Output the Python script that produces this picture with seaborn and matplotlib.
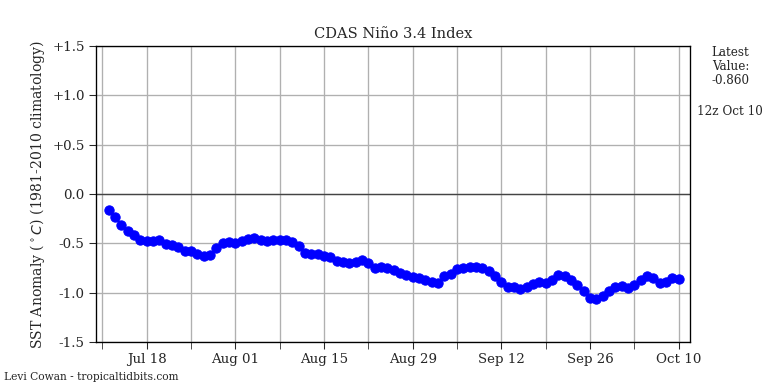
import pandas as pd
import numpy as np
import matplotlib
matplotlib.use("Agg")
import matplotlib.pyplot as plt
import matplotlib.dates as mdates
import matplotlib.ticker as mticker
import seaborn as sns

# Daily CDAS Nino 3.4 values, Jul 12 - Oct 10
start_date = "2022-07-12"
end_date = "2022-10-10"
nino34 = [
    -0.16, -0.23, -0.31, -0.37, -0.41, -0.47, -0.48, -0.48, -0.47, -0.51,
    -0.52, -0.54, -0.58, -0.58, -0.61, -0.63, -0.62, -0.55, -0.50, -0.49,
    -0.50, -0.48, -0.45, -0.44, -0.47, -0.48, -0.47, -0.46, -0.46, -0.49,
    -0.53, -0.60, -0.61, -0.61, -0.63, -0.64, -0.68, -0.69, -0.70, -0.69,
    -0.67, -0.70, -0.75, -0.74, -0.75, -0.77, -0.80, -0.82, -0.84, -0.85,
    -0.87, -0.89, -0.90, -0.83, -0.81, -0.76, -0.75, -0.74, -0.74, -0.75,
    -0.78, -0.83, -0.89, -0.94, -0.94, -0.96, -0.94, -0.91, -0.89, -0.90,
    -0.87, -0.82, -0.83, -0.87, -0.92, -0.98, -1.05, -1.06, -1.03, -0.98,
    -0.94, -0.93, -0.95, -0.92, -0.87, -0.83, -0.85, -0.90, -0.89, -0.85,
    -0.86,
]
ytick_vals = [1.5, 1.0, 0.5, 0.0, -0.5, -1.0, -1.5]
ytick_labels = ["+1.5", "+1.0", "+0.5", "0.0", "-0.5", "-1.0", "-1.5"]

df = pd.DataFrame({"date": pd.date_range(start_date, end_date, freq="D"),
                   "anom": nino34})

sns.set_style("ticks")
plt.rcParams["font.family"] = ["DejaVu Serif"]

fig = plt.figure(figsize=(8, 4), dpi=96)
ax = fig.add_axes([0.125, 0.109, 0.773, 0.771])

ax.axhline(0, color="#444444", linewidth=1.0, zorder=1)
sns.lineplot(data=df, x="date", y="anom", ax=ax, color="blue", marker="o",
             markersize=7, markeredgecolor="blue", linewidth=1.5, zorder=3)

ax.set_xlim(pd.Timestamp("2022-07-10"), pd.Timestamp("2022-10-11 18:00"))
ax.set_ylim(-1.5, 1.5)
ax.set_yticks(ytick_vals)
ax.set_yticklabels(ytick_labels)

# major ticks every two weeks, minor ticks half way between
major_days = pd.date_range("2022-07-18", "2022-10-10", freq="14D")
minor_days = pd.date_range("2022-07-11", "2022-10-10", freq="14D")
ax.xaxis.set_major_locator(mticker.FixedLocator(mdates.date2num(major_days)))
ax.xaxis.set_minor_locator(mticker.FixedLocator(mdates.date2num(minor_days)))
ax.xaxis.set_major_formatter(mdates.DateFormatter("%b %d"))

ax.grid(True, which="major", color="#b0b0b0", linewidth=1.0)
ax.grid(True, which="minor", axis="x", color="#b0b0b0", linewidth=1.0)
ax.tick_params(axis="both", which="major", labelsize=10, length=5)
ax.tick_params(axis="x", which="minor", length=5)
for s in ax.spines.values():
    s.set_visible(True)
    s.set_color("black")
    s.set_linewidth(1.0)

ax.set_xlabel("")
ax.set_ylabel(r"SST Anomaly ($^\circ C$) (1981-2010 climatology)", fontsize=10.5)
ax.set_title("CDAS Niño 3.4 Index", fontsize=11)

fig.text(0.951, 0.88, "Latest\nValue:\n%.3f" % nino34[-1], ha="center",
         va="top", fontsize=9, linespacing=1.1)
fig.text(0.950, 0.71, "12z Oct 10", ha="center", va="center", fontsize=9)
fig.text(0.005, 0.005, "Levi Cowan - tropicaltidbits.com", ha="left",
         va="bottom", fontsize=8)

fig.savefig("out.png", dpi=96)
